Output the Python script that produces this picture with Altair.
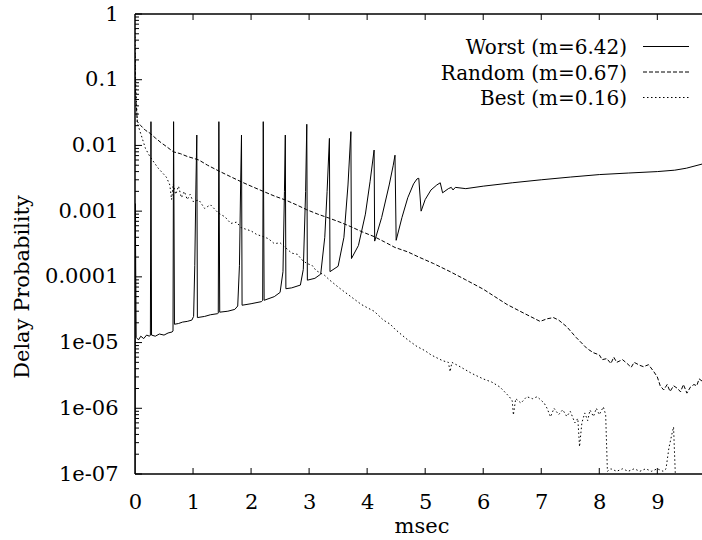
import altair as alt
import pandas as pd

FONT = "DejaVu Serif"
FS = 21

# ---------------- data ----------------
worst_x = [0.0, 0.005, 0.02, 0.06, 0.1, 0.15, 0.2, 0.25, 0.265, 0.275,
           0.285, 0.35, 0.42, 0.5, 0.57, 0.64, 0.655, 0.665, 0.68, 0.75,
           0.82, 0.9, 0.98, 1.01, 1.03, 1.05, 1.065, 1.075, 1.2, 1.3,
           1.42, 1.435, 1.445, 1.46, 1.6, 1.72, 1.77, 1.8, 1.82, 1.835,
           1.845, 2.0, 2.18, 2.2, 2.21, 2.225, 2.4, 2.5, 2.55, 2.575,
           2.59, 2.6, 2.7, 2.85, 2.9, 2.94, 2.96, 2.97, 3.1, 3.2,
           3.27, 3.31, 3.35, 3.36, 3.5, 3.6, 3.67, 3.72, 3.73, 3.85,
           3.97, 4.05, 4.12, 4.13, 4.25, 4.38, 4.45, 4.48, 4.5, 4.6,
           4.7, 4.8, 4.86, 4.89, 4.93, 5.0, 5.1, 5.2, 5.26, 5.3,
           5.4, 5.45, 5.48, 5.52, 5.7, 6.0, 6.5, 7.0, 7.5, 8.0,
           8.5, 9.0, 9.3, 9.5, 9.77]
worst_y = [1e-8, 1.3e-3, 1.2e-5, 1.1e-5, 1.25e-5, 1.15e-5, 1.3e-5, 1.25e-5, 1.3e-5, 0.023,
           1.3e-5, 1.25e-5, 1.35e-5, 1.3e-5, 1.4e-5, 1.45e-5, 1.5e-5, 0.023, 1.9e-5, 1.95e-5,
           2.05e-5, 2.1e-5, 2.2e-5, 2.5e-5, 1.5e-4, 2.5e-3, 0.0144, 2.4e-5, 2.5e-5, 2.65e-5,
           2.75e-5, 2.8e-5, 0.023, 2.9e-5, 3.0e-5, 3.2e-5, 3.6e-5, 1.5e-4, 2.5e-3, 0.0144,
           3.7e-5, 3.9e-5, 4.2e-5, 4.4e-5, 0.023, 4.4e-5, 5.0e-5, 5.8e-5, 1.2e-4, 2e-3,
           0.0144, 6.6e-5, 6.8e-5, 7.5e-5, 1.3e-4, 2e-3, 0.021, 8.9e-5, 9.5e-5, 1.1e-4,
           4e-4, 2e-3, 0.0128, 1.2e-4, 1.45e-4, 4e-4, 2.5e-3, 0.0162, 1.9e-4, 3e-4,
           9e-4, 2.8e-3, 0.0085, 3.5e-4, 8e-4, 2.5e-3, 5e-3, 0.0071, 3.6e-4, 8e-4,
           1.6e-3, 2.6e-3, 3.1e-3, 3.16e-3, 1.0e-3, 1.5e-3, 2.1e-3, 2.5e-3, 2.7e-3, 1.9e-3,
           2.2e-3, 2.3e-3, 2.1e-3, 2.3e-3, 2.2e-3, 2.4e-3, 2.7e-3, 3.0e-3, 3.3e-3, 3.6e-3,
           3.8e-3, 4.0e-3, 4.2e-3, 4.5e-3, 5.2e-3]

random_x = [0.0, 0.01, 0.04, 0.1, 0.18, 0.26, 0.35, 0.45, 0.55, 0.66,
            0.78, 0.9, 1.0, 1.1, 1.25, 1.44, 1.6, 1.83, 2.0, 2.21,
            2.4, 2.59, 2.78, 2.96, 3.15, 3.35, 3.55, 3.72, 3.9, 4.12,
            4.3, 4.48, 4.7, 4.89, 5.14, 5.43, 5.7, 6.0, 6.2, 6.41,
            6.7, 6.98, 7.1, 7.21, 7.3, 7.44, 7.6, 7.79, 7.9, 8.0,
            8.05, 8.13, 8.2, 8.25, 8.3, 8.4, 8.48, 8.55, 8.6, 8.7,
            8.76, 8.85, 8.94, 9.0, 9.05, 9.11, 9.17, 9.22, 9.28, 9.35,
            9.4, 9.45, 9.51, 9.57, 9.63, 9.68, 9.72, 9.77]
random_y = [0.25, 0.06, 0.023, 0.02, 0.017, 0.0153, 0.013, 0.011, 0.0095, 0.008,
            0.0075, 0.0068, 0.0064, 0.006, 0.005, 0.0041, 0.0035, 0.0028, 0.0024, 0.002,
            0.0017, 0.00148, 0.00125, 0.00105, 9e-4, 7.8e-4, 6.7e-4, 5.8e-4, 4.9e-4, 4.1e-4,
            3.4e-4, 2.8e-4, 2.4e-4, 2.0e-4, 1.6e-4, 1.2e-4, 9e-5, 6.5e-5, 5e-5, 3.8e-5,
            2.8e-5, 2.1e-5, 2.3e-5, 2.4e-5, 2.2e-5, 1.74e-5, 1.2e-5, 8.1e-6, 7e-6, 6.5e-6,
            5.5e-6, 5.7e-6, 4.8e-6, 6e-6, 5e-6, 5.5e-6, 4.8e-6, 4.2e-6, 5e-6, 4.5e-6,
            4.3e-6, 4.6e-6, 3.6e-6, 3.0e-6, 2.2e-6, 1.9e-6, 2.3e-6, 1.8e-6, 2.2e-6, 2.0e-6,
            1.78e-6, 2.3e-6, 1.7e-6, 2.1e-6, 2.3e-6, 2.2e-6, 2.8e-6, 2.6e-6]

best_x = [0.0, 0.01, 0.04, 0.1, 0.18, 0.26, 0.4, 0.54, 0.6, 0.63,
          0.66, 0.7, 0.75, 0.8, 0.85, 0.9, 0.95, 1.0, 1.1, 1.2,
          1.3, 1.44, 1.55, 1.65, 1.75, 1.83, 2.0, 2.1, 2.21, 2.3,
          2.4, 2.5, 2.59, 2.7, 2.8, 2.88, 2.96, 3.05, 3.12, 3.19,
          3.27, 3.35, 3.5, 3.6, 3.72, 3.9, 4.0, 4.12, 4.28, 4.4,
          4.48, 4.6, 4.7, 4.86, 5.0, 5.1, 5.3, 5.4, 5.43, 5.46,
          5.6, 5.8, 6.0, 6.15, 6.29, 6.45, 6.5, 6.52, 6.56, 6.65,
          6.75, 6.85, 6.93, 7.05, 7.1, 7.16, 7.22, 7.3, 7.37, 7.44,
          7.5, 7.58, 7.63, 7.66, 7.7, 7.75, 7.8, 7.84, 7.9, 7.95,
          8.0, 8.07, 8.11, 8.14, 8.2, 8.3, 8.4, 8.5, 8.6, 8.7,
          8.8, 8.9, 9.0, 9.1, 9.15, 9.2, 9.25, 9.28, 9.31]
best_y = [0.6, 0.1, 0.022, 0.015, 0.009, 0.0067, 0.0045, 0.0033, 0.0025, 0.0015,
          0.0026, 0.0018, 0.0024, 0.0016, 0.002, 0.0015, 0.0018, 0.0014, 0.00148, 0.0011,
          0.00125, 9.3e-4, 8.2e-4, 6.5e-4, 6.8e-4, 5.6e-4, 5.0e-4, 4.4e-4, 4.1e-4, 3.8e-4,
          3.2e-4, 3.3e-4, 2.8e-4, 2.3e-4, 2.2e-4, 1.8e-4, 1.6e-4, 1.5e-4, 1.25e-4, 1.15e-4,
          1.05e-4, 9e-5, 7e-5, 6e-5, 5e-5, 3.8e-5, 3.4e-5, 3e-5, 2.2e-5, 1.9e-5,
          1.6e-5, 1.3e-5, 1.1e-5, 8.7e-6, 7.5e-6, 6.5e-6, 5.3e-6, 5e-6, 3.6e-6, 5e-6,
          4.3e-6, 3.4e-6, 2.8e-6, 2.5e-6, 2.1e-6, 1.5e-6, 1.3e-6, 7.9e-7, 1.4e-6, 1.2e-6,
          1.5e-6, 1.4e-6, 1.5e-6, 1.2e-6, 1.0e-6, 7.4e-7, 1.0e-6, 8e-7, 9.5e-7, 7.5e-7,
          9e-7, 6e-7, 7e-7, 2.6e-7, 6e-7, 8.5e-7, 6.5e-7, 9.4e-7, 7.5e-7, 1.0e-6,
          8e-7, 1.05e-6, 8e-7, 1.1e-7, 1.2e-7, 1.1e-7, 1.2e-7, 1.1e-7, 1.2e-7, 1.1e-7,
          1.2e-7, 1.1e-7, 1.2e-7, 1.1e-7, 1.2e-7, 2.5e-7, 4e-7, 5.2e-7, 1e-7]

legend_labels = ["Worst (m=6.42)", "Random (m=0.67)", "Best (m=0.16)"]

x_ticks = [0, 1, 2, 3, 4, 5, 6, 7, 8, 9]
y_ticks = [1, 0.1, 0.01, 0.001, 0.0001, 1e-5, 1e-6, 1e-7]
y_tick_labels = ["1", "0.1", "0.01", "0.001", "0.0001", "1e-05", "1e-06", "1e-07"]
y_minor = [k * d for d in [1e-7, 1e-6, 1e-5, 1e-4, 1e-3, 1e-2, 1e-1] for k in range(2, 10)]

x_title = "msec"
y_title = "Delay Probability"

# ---------------- layout ----------------
W, H = 567, 460

x_scale = alt.Scale(domain=[0, 9.77], nice=False, zero=False)
y_scale = alt.Scale(type="log", domain=[1e-7, 1], nice=False)

expr = "'%s'" % y_tick_labels[-1]
for v, lab in reversed(list(zip(y_ticks[:-1], y_tick_labels[:-1]))):
    expr = "datum.value > %r ? '%s' : (%s)" % (v * 0.5, lab, expr)

x_axis = alt.Axis(values=x_ticks, format="d", labelFont=FONT, labelFontSize=FS,
                  labelColor="black", ticks=False, tickSize=0, domain=False,
                  grid=False, labelPadding=34, labelBaseline="alphabetic",
                  labelFlush=False, labelOverlap=False, title="")
y_axis = alt.Axis(values=y_ticks, labelExpr=expr, labelFont=FONT, labelFontSize=FS,
                  labelColor="black", ticks=False, tickSize=0, domain=False,
                  grid=False, labelPadding=17, labelFlush=False,
                  labelOverlap=False, title="")


def line_layer(xs, ys, dash=None):
    df = pd.DataFrame({"x": xs, "y": ys, "i": list(range(len(xs)))})
    kw = {} if dash is None else {"strokeDash": dash}
    return alt.Chart(df).mark_line(clip=True, color="black", strokeWidth=1, **kw).encode(
        x=alt.X("x:Q", scale=x_scale, axis=x_axis),
        y=alt.Y("y:Q", scale=y_scale, axis=y_axis),
        order="i:Q",
    )


one = alt.Data(values=[{}])


def rule(**enc):
    return alt.Chart(one).mark_rule(color="black", strokeWidth=1.5).encode(**enc)


worst = line_layer(worst_x, worst_y)
random_ = line_layer(random_x, random_y, [4, 2])
best = line_layer(best_x, best_y, [1.5, 2.5])

border_top = rule(x=alt.value(0), x2=alt.value(W), y=alt.value(0))
border_left = rule(x=alt.value(0), y=alt.value(0), y2=alt.value(H))
border_bottom = rule(x=alt.value(0), x2=alt.value(W), y=alt.value(H))

ymaj = alt.Chart(pd.DataFrame({"v": y_ticks})).mark_rule(color="black", strokeWidth=1).encode(
    y=alt.Y("v:Q", scale=y_scale, axis=y_axis), x=alt.value(0), x2=alt.value(7))
ymin = alt.Chart(pd.DataFrame({"v": y_minor})).mark_rule(color="black", strokeWidth=1).encode(
    y=alt.Y("v:Q", scale=y_scale, axis=y_axis), x=alt.value(0), x2=alt.value(4))
xt_df = pd.DataFrame({"t": x_ticks[1:]})
xtop = alt.Chart(xt_df).mark_rule(color="black", strokeWidth=1).encode(
    x=alt.X("t:Q", scale=x_scale, axis=x_axis), y=alt.value(0), y2=alt.value(6))
xbot = alt.Chart(xt_df).mark_rule(color="black", strokeWidth=1).encode(
    x=alt.X("t:Q", scale=x_scale, axis=x_axis), y=alt.value(H - 6), y2=alt.value(H))

xt = alt.Chart(one).mark_text(font=FONT, fontSize=FS, color="black", align="center",
                              baseline="alphabetic", text=x_title).encode(
    x=alt.value(287), y=alt.value(519))
yt = alt.Chart(one).mark_text(font=FONT, fontSize=FS, color="black", align="center",
                              baseline="alphabetic", angle=270, text=y_title).encode(
    x=alt.value(-106), y=alt.value(273))

leg_layers = []
dashes = [None, [4, 2], [1.5, 2.5]]
for r, (lab, dash) in enumerate(zip(legend_labels, dashes)):
    leg_layers.append(
        alt.Chart(one).mark_text(font=FONT, fontSize=20, color="black", align="right",
                                 baseline="alphabetic", text=lab).encode(
            x=alt.value(492), y=alt.value(40 + r * 25.5)))
    kw = {} if dash is None else {"strokeDash": dash}
    leg_layers.append(
        alt.Chart(one).mark_rule(color="black", strokeWidth=1, **kw).encode(
            x=alt.value(508), x2=alt.value(554), y=alt.value(32.5 + r * 25.5)))

chart = alt.layer(
    worst, random_, best,
    ymaj, ymin, xtop, xbot,
    border_top, border_left, border_bottom,
    xt, yt, *leg_layers,
).properties(
    width=W, height=H,
    autosize=alt.AutoSizeParams(type="none"),
    padding={"left": 135, "top": 14, "right": 0, "bottom": 66},
    background="white",
).configure_view(strokeWidth=0)

chart.save("out.html", embed_options={"renderer": "svg", "actions": False})
